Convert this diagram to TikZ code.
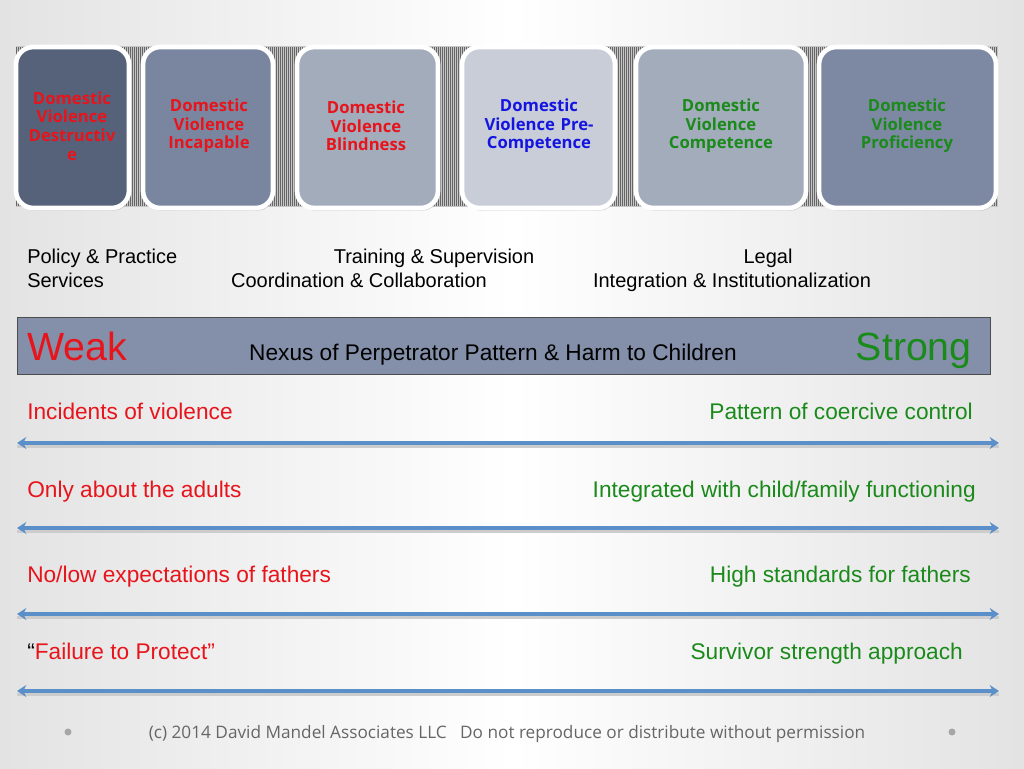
\documentclass[tikz,border=0pt]{standalone}
\usepackage{fontspec}
\setmainfont{Liberation Sans}
\newfontfamily\boxfont{Open Sans}
\usetikzlibrary{shadows,arrows.meta}
\definecolor{dvred}{HTML}{E8141B}
\definecolor{dvgreen}{HTML}{1A8A1A}
\definecolor{dvblue}{HTML}{1515E0}
\definecolor{arr}{HTML}{5B8FC9}
\definecolor{barfill}{HTML}{8490AA}
\definecolor{bA}{HTML}{56627A}
\definecolor{bB}{HTML}{7A869F}
\definecolor{bC}{HTML}{A3ACBB}
\definecolor{bD}{HTML}{C8CDD8}
\definecolor{bE}{HTML}{A3ACBB}
\definecolor{bF}{HTML}{7D89A3}
\tikzset{
 dvbox/.style={draw=white,line width=3.5pt,rounded corners=13pt,
   drop shadow={shadow xshift=1pt,shadow yshift=-2pt,opacity=.35}},
 dvtxt/.style={font=\boxfont\bfseries\fontsize{12.5}{14}\selectfont,align=center,text width=#1,inner sep=0},
 lbl/.style={font=\fontsize{15}{17}\selectfont,anchor=base west,inner sep=0},
 lblc/.style={font=\fontsize{15}{17}\selectfont,anchor=base,inner sep=0},
 row/.style={font=\fontsize{17}{20}\selectfont,inner sep=0},
 big/.style={font=\fontsize{29.5}{32}\selectfont,inner sep=0},
 darr/.style={arr,line width=2.4pt,{Stealth[length=7pt,width=9pt]}-{Stealth[length=7pt,width=9pt]}},
}
\begin{document}
\begin{tikzpicture}[x=0.75pt,y=-0.75pt]
\useasboundingbox (0,0) rectangle (1024,768);
\shade[left color=gray!22,right color=white] (0,0) rectangle (512,768);
\shade[right color=gray!22,left color=white] (512,0) rectangle (1024,768);
% striped band
\fill[gray!45] (16,46) rectangle (998,207);
\foreach \i in {0,...,490} \draw[black!60,line width=0.3pt] (16+2*\i,47) -- (16+2*\i,206);
% boxes
\draw[dvbox,fill=bA] (16,47) rectangle (129,208);
\draw[dvbox,fill=bB] (143,47) rectangle (273,208);
\draw[dvbox,fill=bC] (297,47) rectangle (438,208);
\draw[dvbox,fill=bD] (462,47) rectangle (615,208);
\draw[dvbox,fill=bE] (636,47) rectangle (806,208);
\draw[dvbox,fill=bF] (819,47) rectangle (996,208);
\node[dvtxt=88pt,text=dvred] (t1) at (72,126) {Domestic\\Violence\\Destructiv\\e};
\node[dvtxt=95pt,text=dvred] (t2) at (209,126) {Domestic\\Violence\\Incapable};
\node[dvtxt=95pt,text=dvred] (t3) at (366,126) {Domestic\\Violence\\Blindness};
\node[dvtxt=105pt,text=dvblue] (t4) at (539,126) {Domestic\\Violence Pre-\\Competence};
\node[dvtxt=105pt,text=dvgreen] (t5) at (721,126) {Domestic\\Violence\\Competence};
\node[dvtxt=105pt,text=dvgreen] (t6) at (907,126) {Domestic\\Violence\\Proficiency};
% labels
\node[lbl] (p1) at (27,263) {Policy \& Practice};
\node[lblc] (p2) at (434,263) {Training \& Supervision};
\node[lblc] (p3) at (768,263) {Legal};
\node[lbl] (p4) at (27,287) {Services};
\node[lblc] (p5) at (359,287) {Coordination \& Collaboration};
\node[lblc] (p6) at (732,287) {Integration \& Institutionalization};
% bar
\draw[fill=barfill,draw=black!70,line width=0.6pt] (17,317) rectangle (990,374);
\node[big,text=dvred,anchor=base west] (weak) at (27,360) {Weak};
\node[row,anchor=base] (nexus) at (493,360) {Nexus of Perpetrator Pattern \& Harm to Children};
\node[big,text=dvgreen,anchor=base east] (strong) at (972,360) {Strong};
% rows
\node[row,anchor=base west,text=dvred] (l1) at (27,419) {Incidents of violence};
\node[row,anchor=base east,text=dvgreen] (r1) at (973,419) {Pattern of coercive control};
\node[row,anchor=base west,text=dvred] (l2) at (27,497) {Only about the adults};
\node[row,anchor=base east,text=dvgreen] (r2) at (976,497) {Integrated with child/family functioning};
\node[row,anchor=base west,text=dvred] (l3) at (27,582) {No/low expectations of fathers};
\node[row,anchor=base east,text=dvgreen] (r3) at (971,582) {High standards for fathers};
\node[row,anchor=base west,text=dvred] (l4) at (27,659) {{\color{black}“}Failure to Protect”};
\node[row,anchor=base east,text=dvgreen] (r4) at (963,659) {Survivor strength approach};
\foreach \y/\n in {443/a,528/b,614/c,691/d}{
  \coordinate (\n L) at (17,\y); \coordinate (\n R) at (999,\y);
  \draw[black!20,line width=2pt] ([yshift=-2.5pt]\n L) -- ([yshift=-2.5pt]\n R);
  \draw[darr] (\n L) -- (\n R);
}
% footer
\fill[gray!70] (68,732) circle (3.5);
\fill[gray!70] (952,732) circle (3.5);
\node[font=\boxfont\fontsize{12.9}{14}\selectfont,text=black!60,anchor=base] (foot) at (507,738) {(c) 2014 David Mandel Associates LLC\ \ \ Do not reproduce or distribute without permission};
\end{tikzpicture}
\end{document}
